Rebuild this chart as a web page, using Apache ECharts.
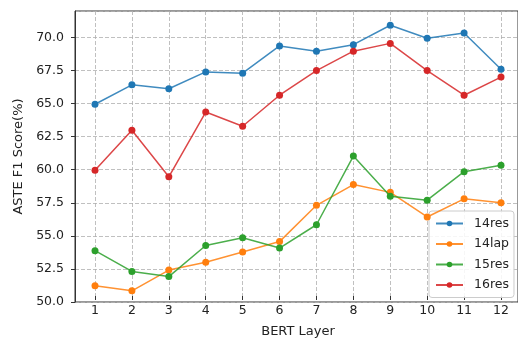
<!DOCTYPE html>
<html>
<head>
<meta charset="utf-8">
<script src="https://cdn.jsdelivr.net/npm/echarts@6/dist/echarts.min.js"></script>
<style>html,body{margin:0;padding:0;background:#fff;}#c{width:518px;height:343px;}</style>
</head>
<body>
<div id="c"></div>
<script>
var layers = [1,2,3,4,5,6,7,8,9,10,11,12];
var res14 = [64.8,66.3,66.0,67.3,67.2,69.3,68.9,69.4,70.9,69.9,70.3,67.5];
var lap14 = [50.8,50.4,52.0,52.6,53.4,54.2,57.0,58.6,58.0,56.1,57.5,57.2];
var res15 = [53.5,51.9,51.5,53.9,54.5,53.7,55.5,60.8,57.7,57.4,59.6,60.1];
var res16 = [59.7,62.8,59.2,64.2,63.1,65.5,67.4,68.9,69.5,67.4,65.5,66.9];
var seriesNames = ['14res','14lap','15res','16res'];
var colors = ['#1f77b4','#ff7f0e','#2ca02c','#d62728'];

var font = 'DejaVu Sans';
var dataSets = [res14, lap14, res15, res16];
function pairs(arr){ return layers.map(function(l,i){ return [l, arr[i]]; }); }

var chart = echarts.init(document.getElementById('c'), null, {renderer:'canvas'});
var gridLine = {show:true, lineStyle:{color:'#b0b0b0', type:[4,2], width:0.8}};
chart.setOption({
  animation:false,
  color: colors,
  grid:[
    {left:75, right:-4, top:11, bottom:41, show:true, borderColor:'#333', borderWidth:1, backgroundColor:'transparent'},
    {left:95, right:17, top:11, bottom:41}
  ],
  xAxis:[
    {gridIndex:0, type:'value', min:0, max:1, show:false},
    {gridIndex:1, type:'value', min:1, max:12, interval:1,
     axisLine:{show:false},
     axisTick:{show:true, length:4, lineStyle:{color:'#333'}},
     axisLabel:{color:'#222', fontFamily:font, fontSize:12.5, margin:8},
     splitLine:gridLine,
     name:'BERT Layer', nameLocation:'middle', nameGap:29,
     nameTextStyle:{color:'#222', fontFamily:font, fontSize:13}}
  ],
  yAxis:[
    {gridIndex:0, type:'value', min:50, max:72, interval:2.5,
     axisLine:{show:true, lineStyle:{color:'#333'}},
     axisTick:{show:true, length:4, lineStyle:{color:'#333'}},
     axisLabel:{color:'#222', fontFamily:font, fontSize:12.5, margin:11, showMaxLabel:false,
       formatter:function(v){ return v>=72 ? '' : v.toFixed(1); }},
     splitLine:gridLine,
     name:'ASTE F1 Score(%)', nameLocation:'middle', nameGap:46,
     nameTextStyle:{color:'#222', fontFamily:font, fontSize:13}},
    {gridIndex:1, type:'value', min:50, max:72, show:false}
  ],
  legend:{
    orient:'vertical', left:429, top:211,
    padding:[6,5,6,6], itemGap:7.5, itemWidth:27, itemHeight:7,
    backgroundColor:'rgba(255,255,255,0.85)', borderColor:'#cccccc', borderWidth:1, borderRadius:3,
    textStyle:{color:'#222', fontFamily:font, fontSize:12.5, padding:[0,0,0,6]},
    data: seriesNames
  },
  series: seriesNames.map(function(n,i){
    return {
      name:n, type:'line', xAxisIndex:1, yAxisIndex:1,
      data: pairs(dataSets[i]),
      symbol:'circle', symbolSize:7,
      lineStyle:{width:1.5, color:colors[i], opacity:0.85},
      itemStyle:{color:colors[i]},
      z: 3+i
    };
  })
});
</script>
</body>
</html>
